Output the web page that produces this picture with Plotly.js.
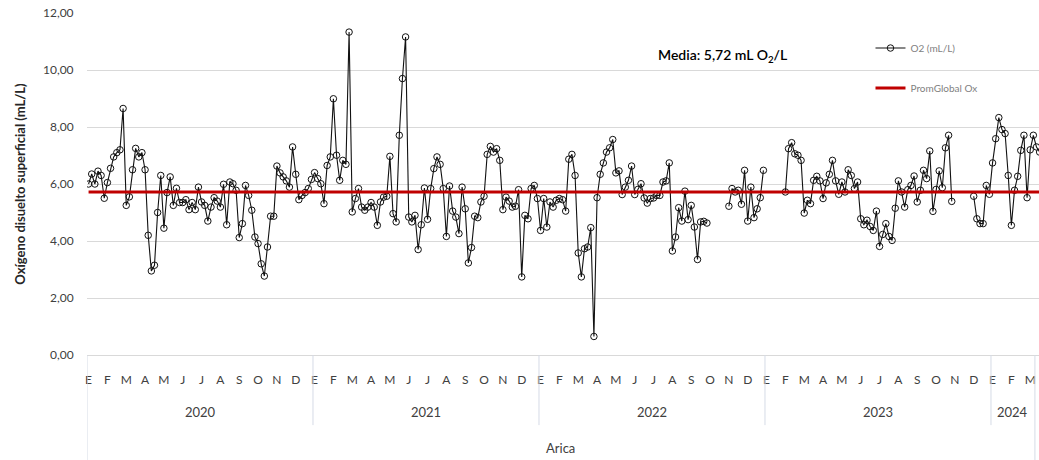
<!DOCTYPE html>
<html><head><meta charset="utf-8">
<script src="https://cdn.plot.ly/plotly-3.0.1.min.js"></script>
<style>html,body{margin:0;padding:0;background:#fff}#chart{width:1039px;height:460px}</style>
</head><body><div id="chart"></div>
<script>
// Category labels
const months = ['E','F','M','A','M','J','J','A','S','O','N','D'];
const years = ['2020','2021','2022','2023','2024'];
const monthsShown2024 = 3;
const station = 'Arica';
const slotsPerMonth = 6;           // category rows per month
const media = 5.72;                // PromGlobal Ox (mL/L)

// O2 (mL/L) per category row, one array per year (null = no sample)
const o2_2020 = [6.0,6.35,6.0,6.45,6.3,5.5,6.05,6.55,6.95,7.1,
  7.2,8.65,5.25,5.55,6.5,7.25,6.95,7.1,6.5,4.2,
  2.95,3.15,5.0,6.3,4.45,5.7,6.25,5.25,5.85,5.35,
  5.35,5.45,5.1,5.35,5.1,5.89,5.37,5.25,4.70,5.19,
  5.52,5.40,5.19,5.99,4.57,6.07,6.01,5.78,4.12,4.61,
  5.95,5.60,5.08,4.14,3.91,3.20,2.77,3.79,4.87,4.87,
  6.63,6.39,6.25,6.11,5.89,7.30,6.34,5.45,5.60,5.70,
  5.84,6.16];
const o2_2021 = [6.40,6.19,6.01,5.31,6.65,6.95,8.99,7.01,6.13,6.83,
  6.69,11.33,5.02,5.49,5.84,5.19,5.08,5.19,5.35,5.19,
  4.55,5.37,5.54,5.57,6.97,4.96,4.67,7.71,9.70,11.16,
  4.84,4.67,4.90,3.70,4.57,5.86,4.76,5.84,6.54,6.95,
  6.69,5.84,4.16,5.93,5.05,4.84,4.26,5.89,5.13,3.23,
  3.77,4.87,4.82,5.37,5.57,7.04,7.32,7.12,7.24,6.83,
  5.10,5.54,5.40,5.19,5.22,5.80,2.74,4.90,4.78,5.84,
  5.95,5.49];
const o2_2022 = [4.37,5.49,4.49,5.37,5.19,5.43,5.49,5.45,5.05,6.87,
  7.04,6.30,3.58,2.74,3.73,3.79,4.47,0.65,5.52,6.34,
  6.74,7.12,7.27,7.56,6.39,6.46,5.63,5.89,6.13,6.63,
  5.63,5.81,6.01,5.51,5.33,5.49,5.51,5.60,5.60,6.07,
  6.11,6.74,3.65,4.14,5.17,4.70,5.75,4.75,5.25,4.49,
  3.35,4.67,4.69,4.63,null,null,null,null,null,null,
  5.22,5.84,5.72,5.78,5.29,6.48,4.70,5.89,4.82,5.13,
  5.52,6.48];
const o2_2023 = [null,null,null,null,null,null,
  5.72,7.24,7.45,7.06,7.01,6.83,4.98,5.43,5.31,6.13,
  6.27,6.11,5.49,6.04,6.34,6.83,6.11,5.64,6.07,5.72,
  6.50,6.30,5.84,6.07,4.78,4.57,4.73,4.51,4.37,5.05,
  3.81,4.23,4.61,4.16,4.02,5.15,6.11,5.72,5.19,5.80,
  5.95,6.28,5.37,5.78,6.48,6.19,7.16,5.04,5.81,6.46,
  5.87,7.27,7.71,5.39,
  null,null,null,null,null,null,
  5.57,4.78,4.61,4.61,5.95,5.64];
const o2_2024 = [6.74,7.59,8.33,7.91,7.77,6.30,4.55,5.78,6.27,7.18,
  7.71,5.52,7.20,7.71,7.30,7.12];

const o2 = [].concat(o2_2020, o2_2021, o2_2022, o2_2023, o2_2024);
const idx = o2.map((_, i) => i);
const prom = o2.map(() => media);
const perYear = 12 * slotsPerMonth;

// month tick labels
const tickvals = [], ticktext = [];
years.forEach((y, yi) => {
  const n = (y === '2024') ? monthsShown2024 : 12;
  for (let m = 0; m < n; m++) { tickvals.push(yi * perYear + m * slotsPerMonth); ticktext.push(months[m]); }
});

const xEnd = 4 * perYear + monthsShown2024 * slotsPerMonth - 4.5;
const divColor = '#d5dbe6';
const shapes = [];
const annotations = [];
[-0.5, xEnd].forEach(xv => shapes.push({type:'line', xref:'x', yref:'paper', x0:xv, x1:xv, y0:0, y1:-0.31, line:{color:divColor, width:1}}));
for (let yi = 1; yi < years.length; yi++) {
  const xv = yi * perYear - 0.5;
  shapes.push({type:'line', xref:'x', yref:'paper', x0:xv, x1:xv, y0:0, y1:-0.205, line:{color:divColor, width:1}});
}
years.forEach((y, yi) => {
  const a = yi * perYear - 0.5;
  const b = (yi < years.length - 1) ? a + perYear : xEnd;
  annotations.push({text:y, xref:'x', yref:'paper', x:(a + b) / 2, y:-0.167, showarrow:false, yanchor:'middle',
    font:{family:'Lato, sans-serif', size:13, color:'#404040'}});
});
annotations.push({text:station, xref:'x', yref:'paper', x:(-0.5 + xEnd) / 2, y:-0.273, showarrow:false, yanchor:'middle',
  font:{family:'Lato, sans-serif', size:13, color:'#404040'}});
annotations.push({text:'Media: 5,72 mL O<sub>2</sub>/L', xref:'paper', yref:'y', x:0.668, y:10.5, showarrow:false,
  xanchor:'center', yanchor:'middle', font:{family:'Lato, sans-serif', size:14, color:'#000', weight:600}});

const traces = [
  {x: idx, y: o2, type:'scatter', mode:'lines+markers', name:'O2 (mL/L)', legendgroup:'a',
   line:{color:'#111', width:1.1}, marker:{symbol:'circle-open', size:6.5, color:'#111', line:{width:1}},
   connectgaps:false},
  {x: idx, y: prom, type:'scatter', mode:'lines', name:'PromGlobal Ox', legendgroup:'b',
   line:{color:'#c00000', width:2.8}}
];

const layout = {
  width:1039, height:460,
  margin:{l:87, r:0, t:13, b:105},
  paper_bgcolor:'#fff', plot_bgcolor:'#fff',
  separators: ',.',
  showlegend:true,
  legend:{x:0.823, y:0.94, xanchor:'left', yanchor:'top', bgcolor:'rgba(0,0,0,0)',
    traceorder:'grouped', tracegroupgap:21,
    font:{family:'Lato, sans-serif', size:10, color:'#7f7f7f'}},
  xaxis:{range:[-0.5, 302.8], showgrid:false, zeroline:false, showline:false,
    tickmode:'array', tickvals:tickvals, ticktext:ticktext, ticks:'outside', ticklen:14,
    tickcolor:'rgba(0,0,0,0)', tickangle:0,
    tickfont:{family:'Lato, sans-serif', size:12, color:'#404040'}},
  yaxis:{range:[0,12], dtick:2, tickformat:'.2f', showgrid:true, gridcolor:'#d9d9d9', gridwidth:1,
    zeroline:true, zerolinecolor:'#d9d9d9', zerolinewidth:1, showline:false,
    ticks:'outside', ticklen:10, tickcolor:'rgba(0,0,0,0)',
    tickfont:{family:'Lato, sans-serif', size:12, color:'#404040'},
    title:{text:'Oxígeno disuelto superficial (mL/L)', standoff:14,
      font:{family:'Lato, sans-serif', size:13, color:'#262626', weight:'bold'}}},
  shapes: shapes,
  annotations: annotations
};
Plotly.newPlot('chart', traces, layout, {displayModeBar:false, staticPlot:true});
</script></body></html>
